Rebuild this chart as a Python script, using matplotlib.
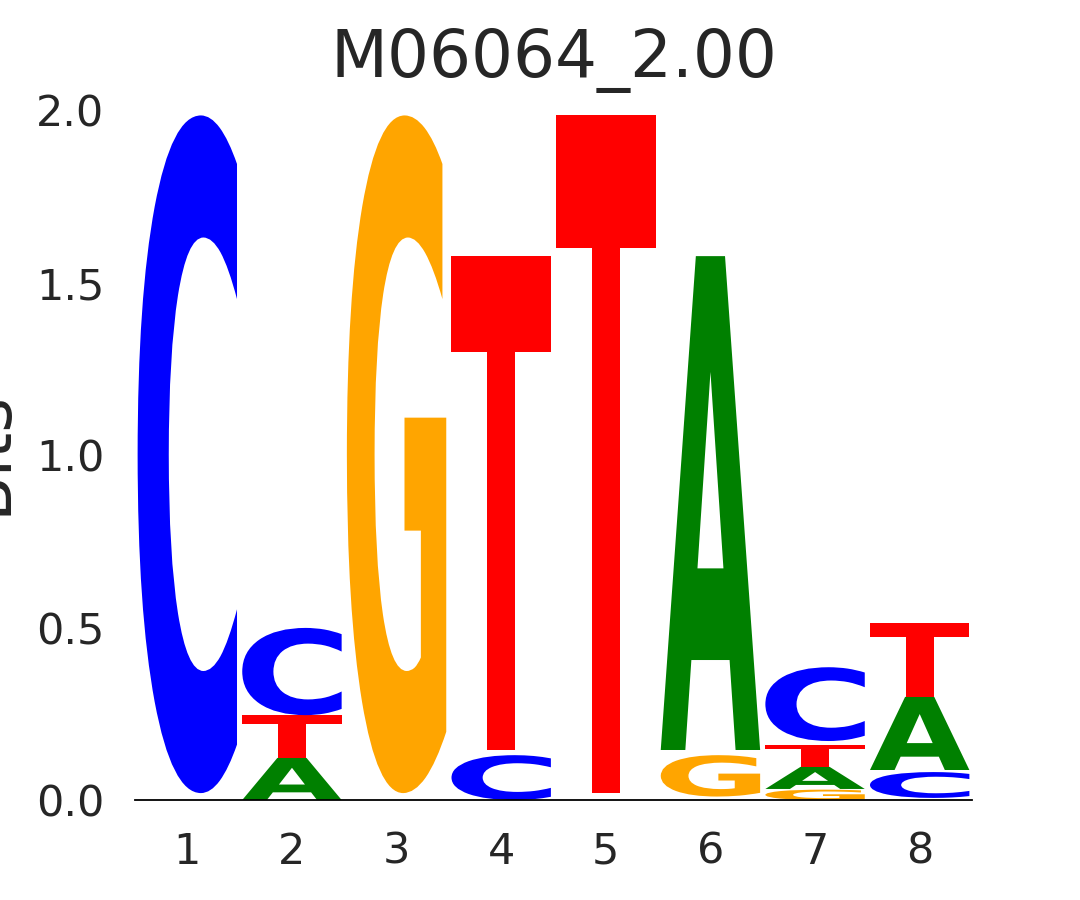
import matplotlib
matplotlib.use("Agg")
import matplotlib.pyplot as plt
from matplotlib.textpath import TextPath
from matplotlib.patches import PathPatch
from matplotlib.font_manager import FontProperties
from matplotlib.transforms import Affine2D

title = "M06064_2.00"
positions = [1, 2, 3, 4, 5, 6, 7, 8]
# stacks per position: (letter, bottom, top) in bits, bottom-up
stacks = [
    [("C", 0.02, 1.985)],
    [("A", 0.0, 0.122), ("T", 0.122, 0.246), ("C", 0.246, 0.499)],
    [("G", 0.02, 1.985)],
    [("C", 0.0, 0.13), ("T", 0.145, 1.577)],
    [("T", 0.02, 1.985)],
    [("G", 0.01, 0.13), ("A", 0.145, 1.577)],
    [("G", 0.0, 0.03), ("A", 0.032, 0.096), ("T", 0.096, 0.16), ("C", 0.171, 0.385)],
    [("C", 0.006, 0.081), ("A", 0.087, 0.299), ("T", 0.30, 0.513)],
]
colors = {"A": "#008000", "C": "#0000ff", "G": "#ffa500", "T": "#ff0000"}
yticks = [0.0, 0.5, 1.0, 1.5, 2.0]
ytick_labels = ["0.0", "0.5", "1.0", "1.5", "2.0"]

text_color = "#262626"
fig = plt.figure(figsize=(10.8, 9), dpi=100)
ax = fig.add_axes([135 / 1080, 100 / 900, 837 / 1080, 707 / 900])

fp = FontProperties(family="DejaVu Sans", weight="bold")
width = 0.95
for pos, stack in zip(positions, stacks):
    for letter, y0, y1 in stack:
        tp = TextPath((0, 0), letter, size=1, prop=fp)
        bb = tp.get_extents()
        tr = (Affine2D().translate(-bb.x0, -bb.y0)
              .scale(width / bb.width, (y1 - y0) / bb.height)
              .translate(pos - width / 2, y0))
        patch = PathPatch(tr.transform_path(tp), facecolor=colors[letter],
                          edgecolor="none")
        ax.add_patch(patch)

ax.set_xlim(0.5, 8.5)
ax.set_ylim(0, 2.05)
ax.set_xticks(positions)
ax.set_xticklabels([str(p) for p in positions])
ax.set_yticks(yticks)
ax.set_yticklabels(ytick_labels)
ax.tick_params(axis="both", length=0, pad=22, labelsize=31, labelcolor=text_color)
for s in ["top", "right", "left"]:
    ax.spines[s].set_visible(False)
ax.spines["bottom"].set_color("black")
ax.spines["bottom"].set_linewidth(1.3)
ax.set_title(title, fontsize=47.5, color=text_color, pad=0)
ax.set_ylabel("Bits", fontsize=48, color=text_color)
ax.yaxis.set_label_coords(-0.138, 0.4915)

fig.savefig("out.png", dpi=100)
